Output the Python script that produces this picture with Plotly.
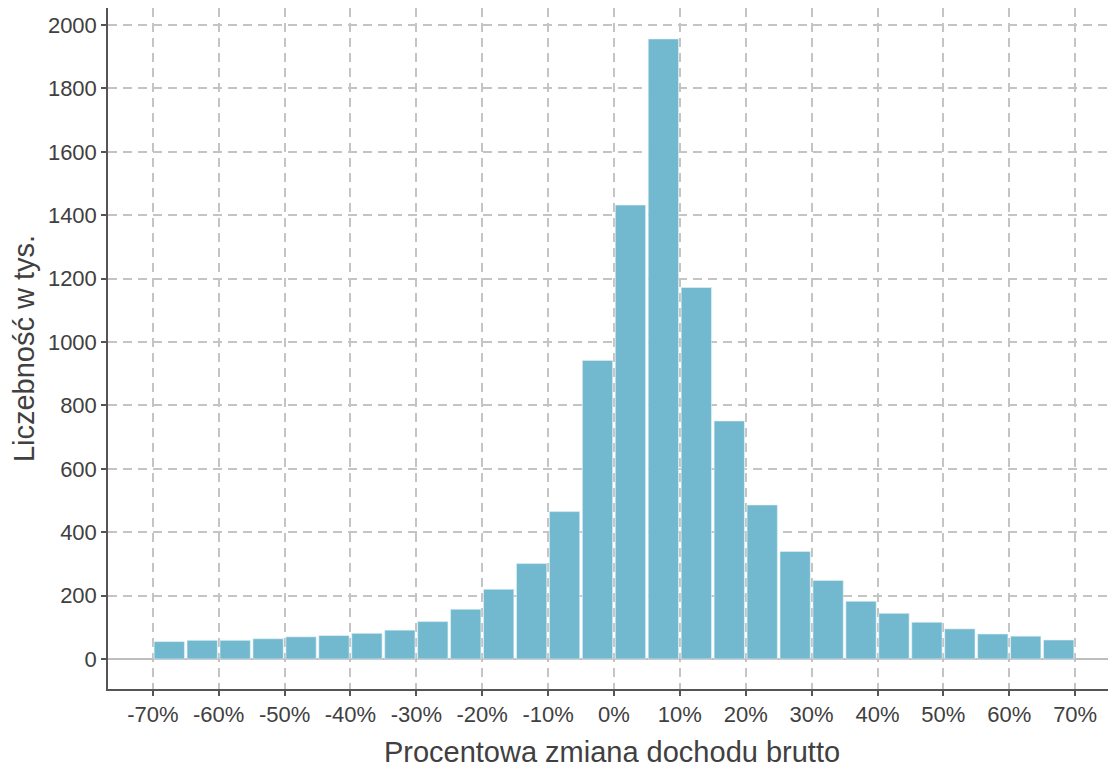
import plotly.graph_objects as go
import numpy as np

# histogram bins: left edge of each 5% bin
bin_start = list(range(-70, 70, 5))
counts = [55, 59, 59, 64, 70, 74, 81, 91, 118, 157, 220, 301, 465, 942,
          1432, 1956, 1172, 751, 486, 339, 248, 182, 144, 116, 95, 79, 72, 60]
bin_width = 5

x_ticks = list(range(-70, 80, 10))
x_labels = [f"{t}%" for t in x_ticks]
y_ticks = list(range(0, 2200, 200))

centers = np.array(bin_start) + bin_width / 2

fig = go.Figure()
fig.add_trace(go.Bar(x=centers,
                     y=counts,
                     width=bin_width * 0.92,
                     marker=dict(color='#72B9D0',
                                 line=dict(color='#E6F2F6', width=0.6)),
                     showlegend=False))

grid = dict(showgrid=True, gridcolor='#C4C4C4', gridwidth=1.6, griddash='9px,6px')
axis_style = dict(ticks='outside', ticklen=5, tickwidth=1.5, tickcolor='#555555',
                  showline=True, linecolor='#555555', linewidth=1.5,
                  tickfont=dict(family="Liberation Sans, Arial", size=22, color='#404040'),
                  automargin=False)

# page body has an 8px margin, so the figure is 8px smaller than the window
fig.update_layout(width=1108, height=761,
                  margin=dict(l=100, r=0, t=0, b=80),
                  plot_bgcolor='white', paper_bgcolor='white',
                  font=dict(family="Liberation Sans, Arial", size=22, color='#404040'))

fig.update_xaxes(range=[-76.8, 76.2],
                 tickvals=x_ticks, ticktext=x_labels,
                 zeroline=False,
                 title=dict(text='Procentowa zmiana dochodu brutto',
                            font=dict(size=29, color='#404040'), standoff=16),
                 **axis_style, **grid)
fig.update_yaxes(range=[-94.6, 2053.6],
                 tickvals=y_ticks,
                 ticklabelstandoff=0,
                 zeroline=True, zerolinecolor='#BEBEBE', zerolinewidth=2,
                 title=dict(text='Liczebność w tys.',
                            font=dict(size=29, color='#404040'), standoff=10),
                 **axis_style, **grid)

fig.write_html("out.html")
